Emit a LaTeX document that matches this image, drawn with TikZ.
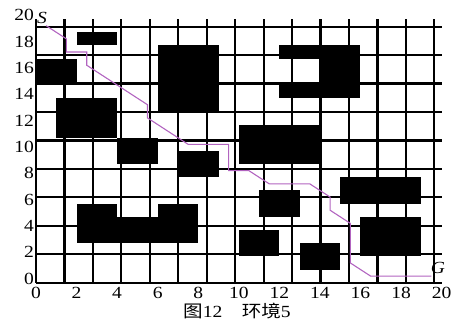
\documentclass[tikz,border=0pt]{standalone}
\usepackage{fontspec}
\usepackage{graphicx}
\setmainfont{Liberation Serif}
\newfontfamily\cjk{Noto Sans CJK SC}
\definecolor{pathc}{RGB}{178,100,192}
\newcommand{\hs}[1]{\scalebox{1.15}[1]{#1}}
\begin{document}
\begin{tikzpicture}[x=20.28pt,y=13.18pt,
  tick/.style={font=\fontsize{17}{17}\selectfont, inner sep=0pt},
  obst/.style={fill=black},
  gridline/.style={line width=2.2pt, draw=black},
  route/.style={draw=pathc, line width=1.1pt, line join=miter},
  sglabel/.style={font=\fontsize{17}{17}\selectfont\itshape, inner sep=0pt}]
\useasboundingbox (-36pt,-44.3pt) rectangle (416pt,282.7pt);
% obstacles
\fill[obst] (2,18) rectangle (4,19);
\fill[obst] (0,15) rectangle (2,17);
\fill[obst] (6,13) rectangle (9,18);
\fill[obst] (1,11) rectangle (4,14);
\fill[obst] (4,9) rectangle (6,11);
\fill[obst] (7,8) rectangle (9,10);
\fill[obst] (12,17) rectangle (16,18);
\fill[obst] (14,15) rectangle (16,17);
\fill[obst] (12,14) rectangle (16,15);
\fill[obst] (10,9) rectangle (14,12);
\fill[obst] (15,6) rectangle (19,8);
\fill[obst] (11,5) rectangle (13,7);
\fill[obst] (2,3) rectangle (4,6);
\fill[obst] (4,3) rectangle (6,5);
\fill[obst] (6,3) rectangle (8,6);
\fill[obst] (16,2) rectangle (19,5);
\fill[obst] (10,2) rectangle (12,4);
\fill[obst] (13,1) rectangle (15,3);
% grid
\draw[gridline] (0,0) grid (20,20);
% route
\draw[route] (0.5,19.5) -- (1.5,18.5) -- (1.5,17.5) -- (2.5,17.5) -- (2.5,16.5)
  -- (5.5,13.5) -- (5.5,12.5) -- (7.5,10.5) -- (9.5,10.5) -- (9.5,8.5)
  -- (10.5,8.5) -- (11.5,7.5) -- (13.5,7.5) -- (14.5,6.5) -- (14.5,5.5)
  -- (15.5,4.5) -- (15.5,1.5) -- (16.5,0.5) -- (19.5,0.5);
% tick labels
\foreach \v in {0,2,...,20} {
  \node[tick, anchor=east, xshift=-2pt, yshift=4pt] (yl\v) at (0,\v) {\hs{\v}};
  \node[tick, anchor=center, yshift=-10pt] (xl\v) at (\v,0) {\hs{\v}};
}
% start / goal
\node[sglabel] (S) at (6pt,265pt) {\hs{S}};
\node[sglabel] (G) at (402pt,14.7pt) {\hs{G}};
% caption
\node[inner sep=0pt, font=\fontsize{17}{17}\selectfont] (cap) at (201pt,-28pt)
  {\hs{{\cjk 图}12\hspace{1em}{\cjk 环境}5}};
\end{tikzpicture}
\end{document}
